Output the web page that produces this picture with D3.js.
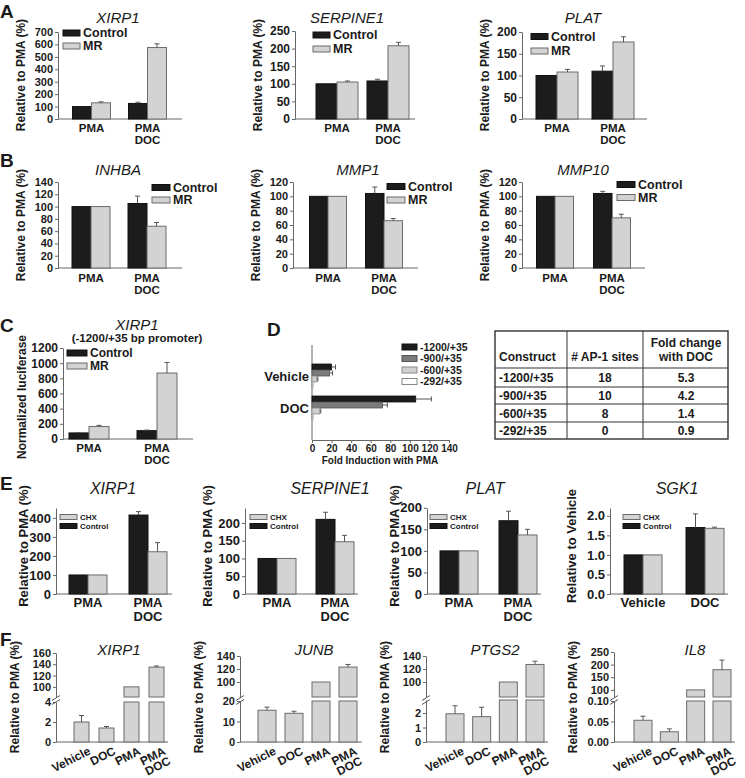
<!DOCTYPE html>
<html><head><meta charset="utf-8">
<script src="https://cdn.jsdelivr.net/npm/d3@7"></script>
<style>body{margin:0;background:#fff}svg{display:block}</style>
</head><body><svg id="c" width="745" height="778"></svg>
<script>
// ===== DATA =====
const catsPMA = ["PMA", "PMA|DOC"];
const seriesAB = ["Control", "MR"];
const genesA = ["XIRP1", "SERPINE1", "PLAT"];
const ctrlA = [[100, 125], [100, 108], [100, 110]];
const ctrlErrA = [[0, 10], [0, 5], [0, 12]];
const mrA = [[130, 575], [105, 208], [108, 177]];
const mrErrA = [[8, 30], [3, 10], [6, 12]];
const ticksA = [[0,100,200,300,400,500,600,700],[0,50,100,150,200,250],[0,50,100,150,200]];

const genesB = ["INHBA", "MMP1", "MMP10"];
const ctrlB = [[100, 105], [100, 104], [100, 104]];
const ctrlErrB = [[0, 12], [0, 9], [0, 3]];
const mrB = [[100, 68], [100, 66], [100, 70]];
const mrErrB = [[0, 6], [0, 3], [0, 5]];
const ticksB = [[0,20,40,60,80,100,120,140],[0,20,40,60,80,100,120],[0,20,40,60,80,100,120]];

const geneC = "XIRP1";
const subtitleC = "(-1200/+35 bp promoter)";
const ctrlC = [80, 110];
const ctrlErrC = [3, 8];
const mrC = [165, 870];
const mrErrC = [15, 140];
const ticksC = [0,200,400,600,800,1000,1200];

const constructsD = ["-1200/+35", "-900/+35", "-600/+35", "-292/+35"];
const treatD = ["Vehicle", "DOC"];
const foldD = [[20, 106], [18, 72], [5, 8], [1, 1]];
const foldErrD = [[4, 16], [3, 5], [1, 1], [0, 0]];
const ticksD = [0,20,40,60,80,100,120,140];
const tableHead = ["Construct", "# AP-1 sites", "Fold change|with DOC"];
const ap1Sites = ["18", "10", "8", "0"];
const foldChangeDOC = ["5.3", "4.2", "1.4", "0.9"];

const genesE = ["XIRP1", "SERPINE1", "PLAT", "SGK1"];
const catsE = [["PMA","PMA|DOC"],["PMA","PMA|DOC"],["PMA","PMA|DOC"],["Vehicle","DOC"]];
const seriesE = ["CHX", "Control"];
const ctrlE = [[100, 415], [100, 210], [100, 170], [1.0, 1.7]];
const ctrlErrE = [[0, 18], [0, 20], [0, 22], [0, 0.35]];
const chxE = [[100, 222], [100, 147], [100, 137], [1.0, 1.68]];
const chxErrE = [[0, 48], [0, 18], [0, 13], [0, 0.03]];
const ticksE = [[0,100,200,300,400],[0,50,100,150,200],[0,50,100,150,200],[0,0.5,1.0,1.5,2.0]];
const yLabelsE = ["Relative to PMA (%)","Relative to PMA (%)","Relative to PMA (%)","Relative to Vehicle"];

const genesF = ["XIRP1", "JUNB", "PTGS2", "IL8"];
const catsF = ["Vehicle", "DOC", "PMA", "PMA|DOC"];
const valsF = [[2.0, 1.4, 100, 135], [15.5, 14, 100, 123], [1.95, 1.75, 100, 127], [0.053, 0.025, 100, 180]];
const errsF = [[0.65, 0.15, 0, 2], [1.5, 1, 0, 4], [0.55, 0.65, 0, 5], [0.01, 0.007, 0, 38]];
const lowTicksF = [[0, 2, 4], [0, 10, 20], [0, 1, 2], [0, 0.05, 0.10]];
const highTicksF = [[100, 120, 140, 160], [100, 120, 140], [100, 120, 140], [100, 150, 200, 250]];

// ===== STYLE =====
const FONT = "'Liberation Sans', Arial, Helvetica, sans-serif";
const INK = "#1a1a1a", AXC = "#666";
const BLACK = {fill: "#1c1c1c", stroke: "#111"};
const GREY = {fill: "#d3d3d3", stroke: "#6b6b6b"};

const svg = d3.select("#c").attr("font-family", FONT);
svg.append("rect").attr("width", 745).attr("height", 778).attr("fill", "#fff");

function txt(g, x, y, s, o = {}) {
  return g.append("text").attr("x", x).attr("y", y).text(s)
    .attr("font-size", o.fs || 12).attr("font-weight", o.fw || "bold")
    .attr("font-style", o.it ? "italic" : "normal")
    .attr("text-anchor", o.a || "start").attr("fill", INK);
}
function vlabel(g, x, y, s, fs) {
  g.append("text").attr("transform", `translate(${x},${y}) rotate(-90)`)
    .attr("dy", "0.35em").attr("text-anchor", "middle").attr("font-size", fs)
    .attr("font-weight", "bold").attr("fill", INK).text(s);
}
function styleAxis(ga, fs) {
  ga.attr("font-family", FONT);
  ga.select(".domain").attr("stroke", AXC);
  ga.selectAll(".tick line").attr("stroke", AXC);
  ga.selectAll(".tick text").attr("font-size", fs).attr("font-weight", "bold").attr("fill", INK);
}
function errBar(g, cx, yv, ye) {
  g.append("line").attr("x1", cx).attr("x2", cx).attr("y1", yv).attr("y2", ye).attr("stroke", "#555");
  g.append("line").attr("x1", cx - 2.5).attr("x2", cx + 2.5).attr("y1", ye).attr("y2", ye).attr("stroke", "#555");
}
function legend(g, o, items) {
  items.forEach((it, i) => {
    g.append("rect").attr("x", o.x).attr("y", o.ys[i] - o.h / 2).attr("width", o.w).attr("height", o.h)
      .attr("fill", it.fill).attr("stroke", it.stroke);
    txt(g, o.x + o.w + 3, o.ys[i], it.label, {fs: o.fs}).attr("dy", "0.35em");
  });
}

function barChart(o) {
  const g = svg.append("g");
  const y = d3.scaleLinear().domain([0, o.max]).range([o.y0, o.yTop]);
  const x = d3.scalePoint().domain(o.cats).range([o.ax + o.c0, o.ax + o.c1]);
  const axis = d3.axisLeft(y).tickValues(o.ticks).tickSizeInner(3).tickSizeOuter(0).tickPadding(2)
    .tickFormat(o.fmt || (d => d));
  const ga = g.append("g").attr("transform", `translate(${o.ax},0)`).call(axis);
  styleAxis(ga, o.tfs);
  g.append("line").attr("x1", o.ax).attr("x2", o.end).attr("y1", o.y0).attr("y2", o.y0).attr("stroke", AXC);
  o.series.forEach((s, si) => {
    const off = si === 0 ? -o.bw : 0;
    g.selectAll(null).data(s.vals).join("rect")
      .attr("x", (d, i) => x(o.cats[i]) + off).attr("width", o.bw)
      .attr("y", d => y(d)).attr("height", d => o.y0 - y(d))
      .attr("fill", s.st.fill).attr("stroke", s.st.stroke);
    s.vals.forEach((v, i) => {
      if (s.errs[i] > 0) errBar(g, x(o.cats[i]) + off + o.bw / 2, y(v), y(v + s.errs[i]));
    });
  });
  o.cats.forEach(c => {
    c.split("|").forEach((ln, li) => txt(g, x(c), o.ly + li * o.lh, ln, {fs: o.lfs, a: "middle"}));
  });
  if (o.title) txt(g, o.tx, o.ty, o.title, {fs: o.ttfs, fw: "normal", it: true, a: "middle"});
  vlabel(g, o.ylx, o.yly, o.ylab, o.ylfs);
  legend(g, o.lg, o.lgItems);
  return g;
}

// ===== PANEL LETTERS =====
[["A", 0, 18], ["B", 0, 167], ["C", 0, 332], ["D", 267, 336], ["E", 0, 490], ["F", 0, 646]]
  .forEach(([l, x, y]) => txt(svg, x, y, l, {fs: 19}));

// ===== PANEL A =====
const layA = [
  {ax: 58, end: 182, yTop: 32, c0: 33.5, c1: 89.5, bw: 19, tx: 118, lgx: 63, lgy: [33, 46]},
  {ax: 295, end: 415, yTop: 31, c0: 42, c1: 93, bw: 21, tx: 347, lgx: 313, lgy: [35, 49]},
  {ax: 522, end: 647, yTop: 32, c0: 35, c1: 91, bw: 21, tx: 583, lgx: 531, lgy: [36.5, 51]}
];
const maxA = [700, 250, 200];
layA.forEach((L, k) => barChart({
  ax: L.ax, end: L.end, y0: 119, yTop: L.yTop, max: maxA[k], ticks: ticksA[k], cats: catsPMA,
  c0: L.c0, c1: L.c1, bw: L.bw, tfs: k === 0 ? 11 : 12, ly: 132, lh: 11.5, lfs: 11.5,
  series: [{vals: ctrlA[k], errs: ctrlErrA[k], st: BLACK}, {vals: mrA[k], errs: mrErrA[k], st: GREY}],
  title: genesA[k], tx: L.tx, ty: 23, ttfs: 15,
  ylab: "Relative to PMA (%)", ylx: L.ax - 37, yly: 75, ylfs: 12,
  lg: {x: L.lgx, ys: L.lgy, w: 17, h: 6, fs: 12.5},
  lgItems: [{label: seriesAB[0], ...BLACK}, {label: seriesAB[1], ...GREY}]
}));

// ===== PANEL B =====
const layB = [
  {ax: 58, end: 182, c0: 33, c1: 89, bw: 19, tx: 118, lgx: 152, lgy: [187.5, 200]},
  {ax: 293, end: 418, c0: 35, c1: 91, bw: 18.5, tx: 358, lgx: 387, lgy: [186.5, 200]},
  {ax: 522, end: 645, c0: 33, c1: 90, bw: 18.5, tx: 583, lgx: 617, lgy: [184.5, 197.5]}
];
const maxB = [140, 120, 120];
layB.forEach((L, k) => barChart({
  ax: L.ax, end: L.end, y0: 268, yTop: 182, max: maxB[k], ticks: ticksB[k], cats: catsPMA,
  c0: L.c0, c1: L.c1, bw: L.bw, tfs: 11, ly: 282, lh: 11.5, lfs: 11.5,
  series: [{vals: ctrlB[k], errs: ctrlErrB[k], st: BLACK}, {vals: mrB[k], errs: mrErrB[k], st: GREY}],
  title: genesB[k], tx: L.tx, ty: 175, ttfs: 15,
  ylab: "Relative to PMA (%)", ylx: L.ax - 37, yly: 225, ylfs: 12,
  lg: {x: L.lgx, ys: L.lgy, w: 18, h: 6, fs: 12.5},
  lgItems: [{label: seriesAB[0], ...BLACK}, {label: seriesAB[1], ...GREY}]
}));

// ===== PANEL C =====
{
  const g = barChart({
    ax: 63, end: 193, y0: 439, yTop: 348, max: 1200, ticks: ticksC, cats: catsPMA,
    c0: 26, c1: 94, bw: 20, tfs: 12, ly: 452, lh: 11.5, lfs: 11.5,
    series: [{vals: ctrlC, errs: ctrlErrC, st: BLACK}, {vals: mrC, errs: mrErrC, st: GREY}],
    title: geneC, tx: 137, ty: 330, ttfs: 15,
    ylab: "Normalized luciferase", ylx: 22, yly: 397, ylfs: 12,
    lg: {x: 67, ys: [353, 366], w: 20, h: 6, fs: 12},
    lgItems: [{label: seriesAB[0], ...BLACK}, {label: seriesAB[1], ...GREY}]
  });
  txt(g, 137, 342, subtitleC, {fs: 11.5, a: "middle"});
}

// ===== PANEL D =====
{
  const g = svg.append("g");
  const x = d3.scaleLinear().domain([0, 140]).range([312, 449]);
  const yg = d3.scalePoint().domain(treatD).range([364, 396]);
  const bh = 6;
  const stD = [BLACK, {fill: "#7b7b7b", stroke: "#555"}, {fill: "#d0d0d0", stroke: "#8a8a8a"}, {fill: "#fff", stroke: "#888"}];
  const ax = d3.axisBottom(x).tickValues(ticksD).tickSizeInner(3).tickSizeOuter(0).tickPadding(2);
  const ga = g.append("g").attr("transform", "translate(0,440)").call(ax);
  styleAxis(ga, 10);
  g.append("line").attr("x1", 312).attr("x2", 312).attr("y1", 345).attr("y2", 440).attr("stroke", AXC);
  constructsD.forEach((c, ci) => {
    foldD[ci].forEach((v, ti) => {
      const yy = yg(treatD[ti]) + ci * bh;
      g.append("rect").attr("x", x(0)).attr("y", yy).attr("width", x(v) - x(0)).attr("height", bh)
        .attr("fill", stD[ci].fill).attr("stroke", stD[ci].stroke).attr("stroke-width", 0.8);
      const e = foldErrD[ci][ti];
      if (e > 0) {
        g.append("line").attr("x1", x(v)).attr("x2", x(v + e)).attr("y1", yy + bh / 2).attr("y2", yy + bh / 2).attr("stroke", "#555");
        g.append("line").attr("x1", x(v + e)).attr("x2", x(v + e)).attr("y1", yy + bh / 2 - 2.5).attr("y2", yy + bh / 2 + 2.5).attr("stroke", "#555");
      }
    });
  });
  treatD.forEach(t => txt(g, 309, yg(t) + 12, t, {fs: 13, a: "end"}).attr("dy", "0.35em"));
  txt(g, 380, 464, "Fold Induction with PMA", {fs: 10, a: "middle"});
  legend(g, {x: 402, ys: [347, 358.5, 370, 381.5], w: 15, h: 6, fs: 10.5},
    constructsD.map((c, i) => ({label: c, ...stD[i]})));
}

// ===== TABLE =====
{
  const g = svg.append("g");
  const colX = [495, 567, 643, 728];
  const rowY = [331, 368, 387, 404, 422, 439];
  g.append("rect").attr("x", colX[0]).attr("y", rowY[0]).attr("width", colX[3] - colX[0])
    .attr("height", rowY[5] - rowY[0]).attr("fill", "none").attr("stroke", "#333").attr("stroke-width", 1.4);
  colX.slice(1, 3).forEach(cx => g.append("line").attr("x1", cx).attr("x2", cx).attr("y1", rowY[0]).attr("y2", rowY[5]).attr("stroke", "#333"));
  rowY.slice(1, 5).forEach(ry => g.append("line").attr("x1", colX[0]).attr("x2", colX[3]).attr("y1", ry).attr("y2", ry).attr("stroke", "#333"));
  txt(g, 499, 361, tableHead[0], {fs: 12});
  txt(g, 605, 361, tableHead[1], {fs: 12, a: "middle"});
  tableHead[2].split("|").forEach((l, i) => txt(g, 686, 347 + i * 14, l, {fs: 12, a: "middle"}));
  constructsD.forEach((c, i) => {
    const cy = (rowY[i + 1] + rowY[i + 2]) / 2 + 4.5;
    txt(g, 499, cy, c, {fs: 12});
    txt(g, 605, cy, ap1Sites[i], {fs: 12, a: "middle"});
    txt(g, 686, cy, foldChangeDOC[i], {fs: 12, a: "middle"});
  });
}

// ===== PANEL E =====
const layE = [
  {ax: 56, end: 172, max: 452, c0: 32, c1: 92, tx: 113, lgx: 60, ylx: 23},
  {ax: 245, end: 358, max: 242, c0: 32, c1: 90, tx: 330, lgx: 250, ylx: 207},
  {ax: 427, end: 541, max: 199.5, c0: 32, c1: 91, tx: 485, lgx: 430, ylx: 394},
  {ax: 610, end: 728, max: 2.2, c0: 33, c1: 95, tx: 677, lgx: 623, ylx: 571}
];
layE.forEach((L, k) => barChart({
  ax: L.ax, end: L.end, y0: 594, yTop: 508, max: L.max, ticks: ticksE[k], cats: catsE[k],
  fmt: k === 3 ? d3.format(".1f") : null,
  c0: L.c0, c1: L.c1, bw: 19, tfs: 13, ly: 607, lh: 13.5, lfs: 13,
  series: [{vals: ctrlE[k], errs: ctrlErrE[k], st: BLACK}, {vals: chxE[k], errs: chxErrE[k], st: GREY}],
  title: genesE[k], tx: L.tx, ty: 494, ttfs: 16,
  ylab: yLabelsE[k], ylx: L.ylx, yly: 546, ylfs: 13,
  lg: {x: L.lgx, ys: [517, 526], w: 17, h: 5, fs: 8},
  lgItems: [{label: seriesE[0], ...GREY}, {label: seriesE[1], ...BLACK}]
}));

// ===== PANEL F =====
const layF = [
  {ax: 56, end: 168, lowMax: 4, lowTop: 702, hiMin: 82, hiMax: 160, hiTop: 653, c0: 25.5, c1: 100.5, bw: 15, tx: 119},
  {ax: 240, end: 362, lowMax: 20, lowTop: 701, hiMin: 77, hiMax: 140, hiTop: 656, c0: 27, c1: 108, bw: 18, tx: 314},
  {ax: 426, end: 548, lowMax: 2.9, lowTop: 700, hiMin: 77, hiMax: 140, hiTop: 656, c0: 29, c1: 109, bw: 18, tx: 495},
  {ax: 614, end: 735, lowMax: 0.10, lowTop: 701, hiMin: 72, hiMax: 250, hiTop: 652, c0: 29, c1: 108, bw: 18, tx: 695}
];
layF.forEach((L, k) => {
  const g = svg.append("g");
  const y0 = 742, hiBot = 697;
  const yl = d3.scaleLinear().domain([0, L.lowMax]).range([y0, L.lowTop]);
  const yh = d3.scaleLinear().domain([L.hiMin, L.hiMax]).range([hiBot, L.hiTop]);
  const x = d3.scalePoint().domain(catsF).range([L.ax + L.c0, L.ax + L.c1]);
  const fmtLow = k === 3 ? d3.format(".2f") : (d => d);
  const ga1 = g.append("g").attr("transform", `translate(${L.ax},0)`)
    .call(d3.axisLeft(yl).tickValues(lowTicksF[k]).tickSizeInner(3).tickSizeOuter(0).tickPadding(2).tickFormat(fmtLow));
  const ga2 = g.append("g").attr("transform", `translate(${L.ax},0)`)
    .call(d3.axisLeft(yh).tickValues(highTicksF[k]).tickSizeInner(3).tickSizeOuter(0).tickPadding(2));
  styleAxis(ga1, 11); styleAxis(ga2, 11);
  [[700.5, 696.5], [704.5, 700.5]].forEach(([a, b]) =>
    g.append("line").attr("x1", L.ax - 4).attr("x2", L.ax + 4).attr("y1", a).attr("y2", b - 1).attr("stroke", "#555"));
  g.append("line").attr("x1", L.ax).attr("x2", L.end).attr("y1", y0).attr("y2", y0).attr("stroke", AXC);
  valsF[k].forEach((v, i) => {
    const bx = x(catsF[i]) - L.bw / 2;
    const e = errsF[k][i];
    if (v <= L.lowMax) {
      g.append("rect").attr("x", bx).attr("y", yl(v)).attr("width", L.bw).attr("height", y0 - yl(v))
        .attr("fill", GREY.fill).attr("stroke", GREY.stroke);
      if (e > 0) errBar(g, bx + L.bw / 2, yl(v), yl(v + e));
    } else {
      g.append("rect").attr("x", bx).attr("y", L.lowTop).attr("width", L.bw).attr("height", y0 - L.lowTop)
        .attr("fill", GREY.fill).attr("stroke", GREY.stroke);
      g.append("rect").attr("x", bx).attr("y", yh(v)).attr("width", L.bw).attr("height", hiBot - yh(v))
        .attr("fill", GREY.fill).attr("stroke", GREY.stroke);
      if (e > 0) errBar(g, bx + L.bw / 2, yh(v), yh(v + e));
    }
    const t = g.append("text").attr("transform", `translate(${x(catsF[i]) + 6},${y0 + 4}) rotate(-27)`)
      .attr("text-anchor", "end").attr("font-size", 12).attr("font-weight", "bold").attr("fill", INK);
    catsF[i].split("|").forEach((ln, li) => t.append("tspan").attr("x", 0).attr("dy", li ? "0.92em" : "0.72em").text(ln));
  });
  txt(g, L.tx, 655, genesF[k], {fs: 15, fw: "normal", it: true, a: "middle"});
  vlabel(g, L.ax - 41, 697, "Relative to PMA (%)", 12);
});
</script>
</body></html>
